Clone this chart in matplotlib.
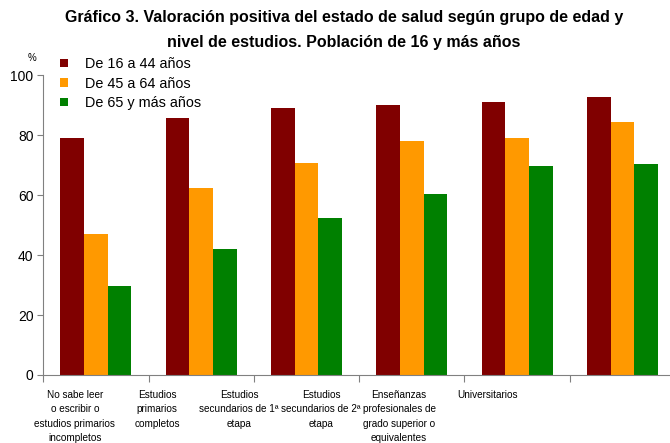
import matplotlib.pyplot as plt
import numpy as np
from matplotlib.patches import Patch

plt.rcParams['font.family'] = ['Liberation Sans', 'DejaVu Sans']

categories = [
    "No sabe leer\no escribir o\nestudios primarios\nincompletos",
    "Estudios\nprimarios\ncompletos",
    "Estudios\nsecundarios de 1ª\netapa",
    "Estudios\nsecundarios de 2ª\netapa",
    "Enseñanzas\nprofesionales de\ngrado superior o\nequivalentes",
    "Universitarios",
]
series_names = ["De 16 a 44 años", "De 45 a 64 años", "De 65 y más años"]
de_16_44 = [79.0, 85.7, 89.0, 90.0, 91.0, 92.7]
de_45_64 = [47.0, 62.3, 70.7, 78.0, 79.0, 84.3]
de_65_mas = [29.7, 42.0, 52.3, 60.3, 69.7, 70.3]
colors = ['#800000', '#FF9900', '#008000']

fig = plt.figure(figsize=(6.7, 4.43), dpi=100)
# axis runs a bit past the right edge, like the original crop
ax = fig.add_axes([43.3 / 670, 1 - 375 / 443, (675 - 43.3) / 670, (375 - 75.3) / 443])

x = np.arange(len(categories))
w = 0.225
for k, vals in enumerate([de_16_44, de_45_64, de_65_mas]):
    ax.bar(x + (k - 1) * w, vals, width=w, color=colors[k], linewidth=0)

ax.set_xlim(-0.5, len(categories) - 0.5)
ax.set_ylim(0, 100)
ax.set_yticks([0, 20, 40, 60, 80, 100])
ax.tick_params(axis='y', labelsize=10, length=4, color='#808080', pad=3)

# tick marks on category boundaries, labels drawn where Excel put them
ax.set_xticks(np.arange(-0.5, len(categories) + 0.5, 1))
ax.set_xticklabels([])
ax.tick_params(axis='x', which='major', length=5, color='#808080')
ax.set_xticks(-0.2 + 0.78 * x + np.array([0, 0, 0, 0, -0.04, 0.02]), minor=True)
ax.set_xticklabels(categories, minor=True, fontsize=7.2, linespacing=1.52)
ax.tick_params(axis='x', which='minor', length=0, pad=11)

for s in ['top', 'right']:
    ax.spines[s].set_visible(False)
for s in ['left', 'bottom']:
    ax.spines[s].set_color('#808080')

fig.text(32 / 670, 1 - 58 / 443, "%", fontsize=7, ha='center', va='center')

fig.suptitle("Gráfico 3. Valoración positiva del estado de salud según grupo de edad y\n"
             "nivel de estudios. Población de 16 y más años",
             x=344 / 670, y=1 - 10 / 443, fontsize=11.5, fontweight='bold',
             va='top', linespacing=1.85)

handles = [Patch(facecolor=c, edgecolor='none') for c in colors]
fig.legend(handles, series_names, loc='upper left', bbox_to_anchor=(50 / 670, 1 - 47 / 443),
           frameon=False, fontsize=10.4, handlelength=0.55, handleheight=0.55,
           handletextpad=1.2, labelspacing=0.38, borderpad=0.2)

plt.savefig('out.png', dpi=100)
